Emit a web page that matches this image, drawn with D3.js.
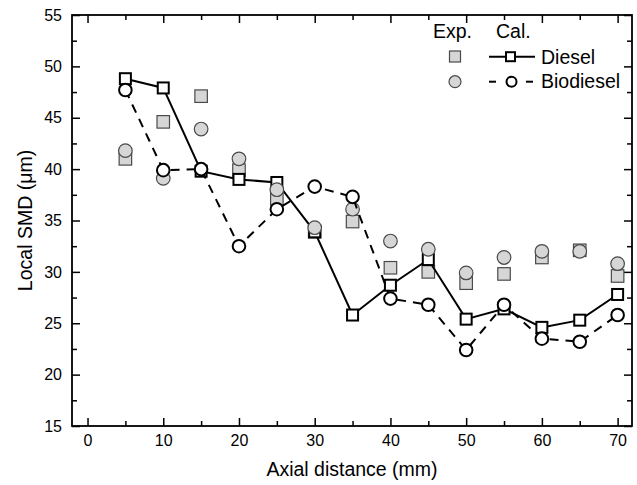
<!DOCTYPE html>
<html>
<head>
<meta charset="utf-8">
<script src="https://cdn.jsdelivr.net/npm/d3@7"></script>
<style>
  body { margin: 0; background: #fff; }
  svg { font-family: "Liberation Sans", Arial, sans-serif; }
</style>
</head>
<body>
<svg id="chart"></svg>
<script>
// Data
const distance = [5, 10, 15, 20, 25, 30, 35, 40, 45, 50, 55, 60, 65, 70];
const dieselExp = [41.0, 44.6, 47.1, 39.9, 37.1, 33.9, 34.9, 30.4, 30.0, 28.9, 29.8, 31.4, 32.1, 29.6];
const biodieselExp = [41.8, 39.1, 43.9, 41.0, 38.0, 34.3, 36.1, 33.0, 32.2, 29.9, 31.4, 32.0, 32.0, 30.8];
const dieselCal = [48.8, 47.9, 39.8, 39.0, 38.7, 33.9, 25.8, 28.7, 31.2, 25.4, 26.4, 24.6, 25.3, 27.8];
const biodieselCal = [47.7, 39.9, 40.0, 32.5, 36.1, 38.3, 37.3, 27.4, 26.8, 22.4, 26.8, 23.5, 23.2, 25.8];

const xTicks = [0, 10, 20, 30, 40, 50, 60, 70];
const yTicks = [15, 20, 25, 30, 35, 40, 45, 50, 55];

const width = 637;
const height = 485;
const margin = { top: 15, right: 5, bottom: 59, left: 72 };

let svg = d3.select("#chart").attr("width", width).attr("height", height);

let xScale = d3.scaleLinear()
  .domain([-2.05, 71.9])
  .range([margin.left, width - margin.right]);

let yScale = d3.scaleLinear()
  .domain([15, 55])
  .range([height - margin.bottom, margin.top]);

const x0 = margin.left, x1 = width - margin.right;
const y0 = height - margin.bottom, y1 = margin.top;

function styleAxis(g) {
  g.select(".domain").remove();
  g.selectAll("line").attr("stroke", "#000").attr("stroke-width", 1.5);
  g.selectAll("text").attr("fill", "#000").style("font-size", "16px").style("font-family", "Liberation Sans, Arial, sans-serif");
}

const xMinor = d3.range(5, 71, 10);
const yMinor = d3.range(17.5, 55, 5);

// bottom axis
svg.append("g").attr("transform", "translate(0," + y0 + ")")
  .call(d3.axisBottom(xScale).tickValues(xTicks).tickSize(-8).tickPadding(9))
  .call(styleAxis);
svg.append("g").attr("transform", "translate(0," + y0 + ")")
  .call(d3.axisBottom(xScale).tickValues(xMinor).tickSize(-5).tickFormat(""))
  .call(styleAxis);
// top axis
svg.append("g").attr("transform", "translate(0," + y1 + ")")
  .call(d3.axisTop(xScale).tickValues(xTicks).tickSize(-8).tickFormat(""))
  .call(styleAxis);
svg.append("g").attr("transform", "translate(0," + y1 + ")")
  .call(d3.axisTop(xScale).tickValues(xMinor).tickSize(-5).tickFormat(""))
  .call(styleAxis);
// left axis
svg.append("g").attr("transform", "translate(" + x0 + ",0)")
  .call(d3.axisLeft(yScale).tickValues(yTicks).tickSize(-8).tickPadding(10))
  .call(styleAxis);
svg.append("g").attr("transform", "translate(" + x0 + ",0)")
  .call(d3.axisLeft(yScale).tickValues(yMinor).tickSize(-5).tickFormat(""))
  .call(styleAxis);
// right axis
svg.append("g").attr("transform", "translate(" + x1 + ",0)")
  .call(d3.axisRight(yScale).tickValues(yTicks).tickSize(-8).tickFormat(""))
  .call(styleAxis);
svg.append("g").attr("transform", "translate(" + x1 + ",0)")
  .call(d3.axisRight(yScale).tickValues(yMinor).tickSize(-5).tickFormat(""))
  .call(styleAxis);

// frame
svg.append("rect")
  .attr("x", x0).attr("y", y1)
  .attr("width", x1 - x0).attr("height", y0 - y1)
  .attr("fill", "none").attr("stroke", "#000").attr("stroke-width", 1.8);

// axis titles
svg.append("text")
  .attr("x", (x0 + x1) / 2).attr("y", 476)
  .attr("text-anchor", "middle")
  .style("font-size", "19.5px")
  .text("Axial distance (mm)");

svg.append("text")
  .attr("transform", "translate(31.5," + (y0 + y1) / 2 + ") rotate(-90)")
  .attr("text-anchor", "middle")
  .style("font-size", "19.5px")
  .text("Local SMD (\u03bcm)");

const grey = "#d6d6d6";
const greyStroke = "#4a4a4a";
const sq = 11;
const sqExp = 12.5;
const rad = 6.3;
const radExp = 6.8;

function pts(vals) {
  return distance.map((d, i) => [d, vals[i]]);
}

let line = d3.line().x(d => xScale(d[0])).y(d => yScale(d[1]));

// diesel exp
svg.append("g").selectAll("rect")
  .data(pts(dieselExp)).enter().append("rect")
  .attr("x", d => xScale(d[0]) - sqExp / 2)
  .attr("y", d => yScale(d[1]) - sqExp / 2)
  .attr("width", sqExp).attr("height", sqExp)
  .attr("fill", grey).attr("stroke", greyStroke).attr("stroke-width", 1.2);

// diesel cal
svg.append("path").datum(pts(dieselCal))
  .attr("d", line).attr("fill", "none").attr("stroke", "#000").attr("stroke-width", 2);
svg.append("g").selectAll("rect")
  .data(pts(dieselCal)).enter().append("rect")
  .attr("x", d => xScale(d[0]) - sq / 2)
  .attr("y", d => yScale(d[1]) - sq / 2)
  .attr("width", sq).attr("height", sq)
  .attr("fill", "#fff").attr("stroke", "#000").attr("stroke-width", 2);

// biodiesel exp
svg.append("g").selectAll("circle")
  .data(pts(biodieselExp)).enter().append("circle")
  .attr("cx", d => xScale(d[0]))
  .attr("cy", d => yScale(d[1]))
  .attr("r", radExp)
  .attr("fill", grey).attr("stroke", greyStroke).attr("stroke-width", 1.2);

// biodiesel cal
svg.append("path").datum(pts(biodieselCal))
  .attr("d", line).attr("fill", "none").attr("stroke", "#000").attr("stroke-width", 2)
  .attr("stroke-dasharray", "9,7");
svg.append("g").selectAll("circle")
  .data(pts(biodieselCal)).enter().append("circle")
  .attr("cx", d => xScale(d[0]))
  .attr("cy", d => yScale(d[1]))
  .attr("r", rad)
  .attr("fill", "#fff").attr("stroke", "#000").attr("stroke-width", 2);

// legend
let legend = svg.append("g").style("font-size", "19.5px");
legend.append("text").attr("x", 433).attr("y", 38).text("Exp.");
legend.append("text").attr("x", 496).attr("y", 38).text("Cal.");

legend.append("rect").attr("x", 449.5).attr("y", 51).attr("width", 11).attr("height", 11)
  .attr("fill", grey).attr("stroke", greyStroke).attr("stroke-width", 1.2);
legend.append("line").attr("x1", 489).attr("x2", 535).attr("y1", 56.7).attr("y2", 56.7)
  .attr("stroke", "#000").attr("stroke-width", 2);
legend.append("rect").attr("x", 506).attr("y", 52.2).attr("width", 9).attr("height", 9)
  .attr("fill", "#fff").attr("stroke", "#000").attr("stroke-width", 2);
legend.append("text").attr("x", 541).attr("y", 63.5).text("Diesel");

legend.append("circle").attr("cx", 455).attr("cy", 81.7).attr("r", 6)
  .attr("fill", grey).attr("stroke", greyStroke).attr("stroke-width", 1.2);
legend.append("line").attr("x1", 489).attr("x2", 496).attr("y1", 81.7).attr("y2", 81.7)
  .attr("stroke", "#000").attr("stroke-width", 2);
legend.append("circle").attr("cx", 511.5).attr("cy", 81.7).attr("r", 5)
  .attr("fill", "#fff").attr("stroke", "#000").attr("stroke-width", 2);
legend.append("line").attr("x1", 526).attr("x2", 533).attr("y1", 81.7).attr("y2", 81.7)
  .attr("stroke", "#000").attr("stroke-width", 2);
legend.append("text").attr("x", 541).attr("y", 88).text("Biodiesel");
</script>
</body>
</html>
